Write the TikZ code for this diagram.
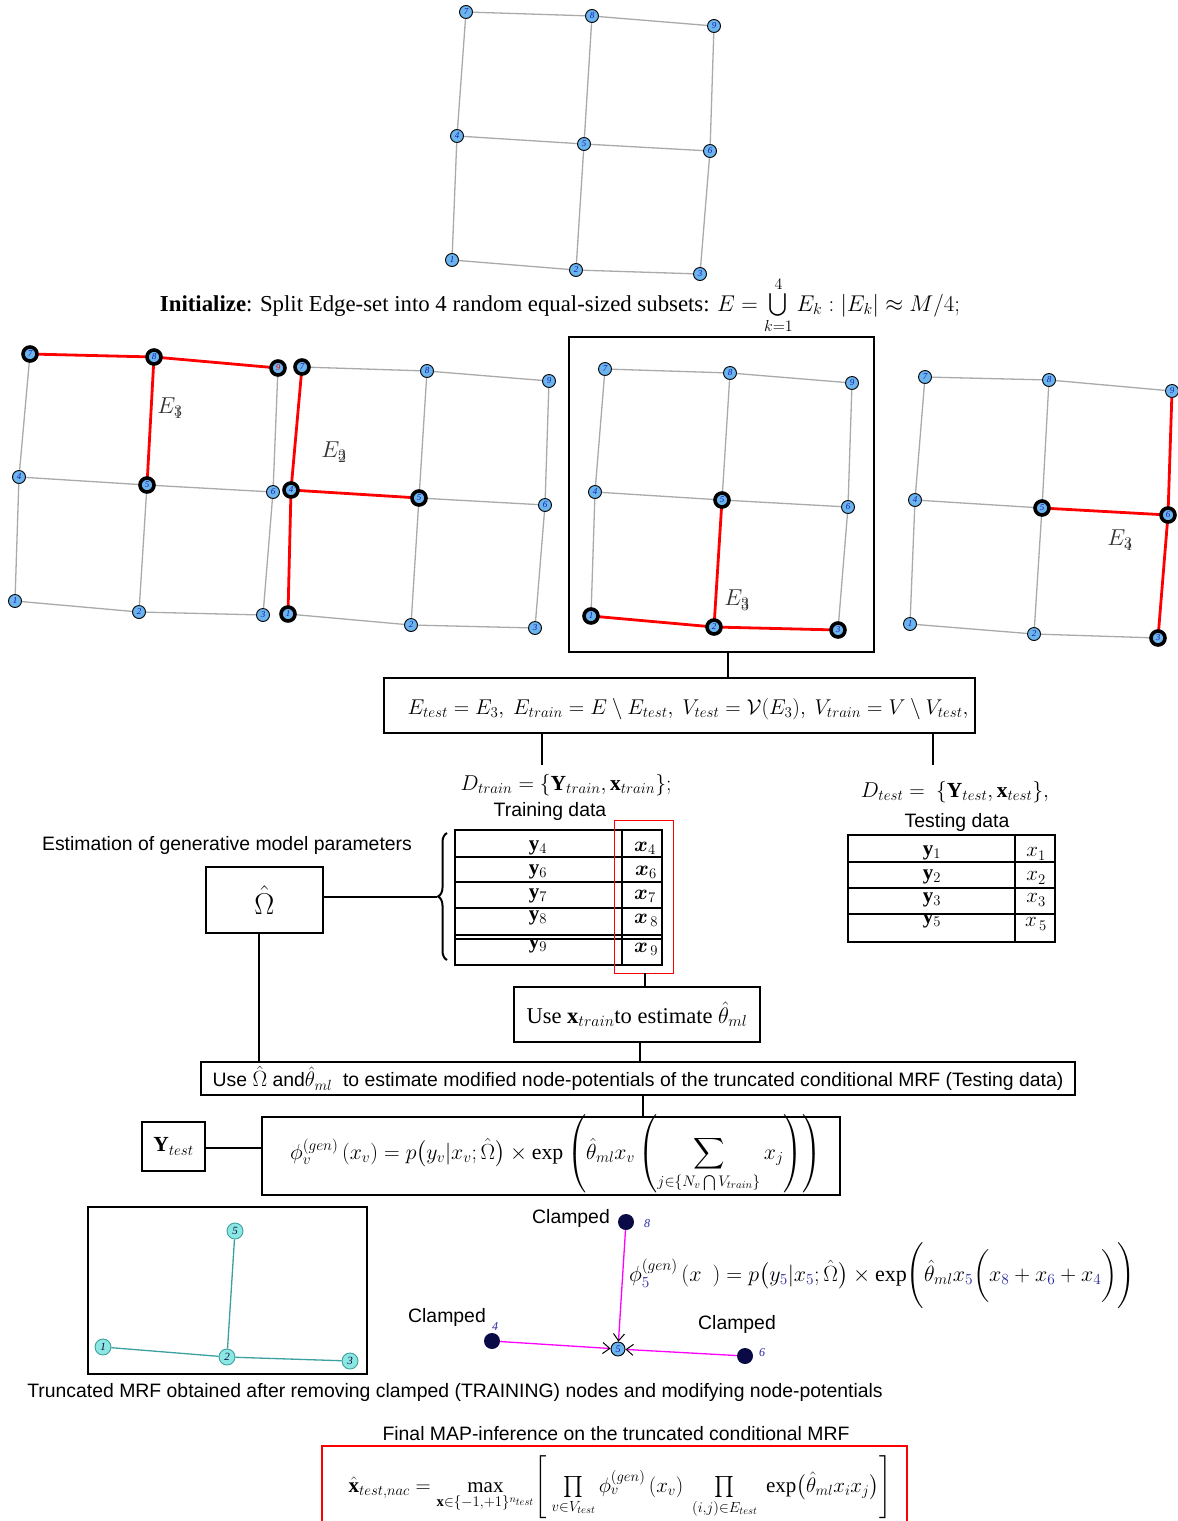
\RequirePackage{fix-cm}
\documentclass[tikz,border=0pt]{standalone}
\usepackage{amsmath,amssymb}
\usepackage{fontspec}
\setmainfont{Liberation Serif}
\setsansfont{Liberation Sans}
\usetikzlibrary{arrows.meta,decorations.pathreplacing}
\definecolor{nodeblue}{RGB}{108,180,238}
\definecolor{numblue}{RGB}{20,30,180}
\definecolor{edgegray}{RGB}{170,170,170}
\definecolor{tealfill}{RGB}{140,230,225}
\definecolor{tealline}{RGB}{60,160,160}
\definecolor{navy}{RGB}{10,10,70}
\definecolor{labelblue}{RGB}{40,40,160}
\definecolor{magentaline}{RGB}{255,0,255}
\tikzset{
 gnode/.style={circle,draw=black,fill=nodeblue,inner sep=0pt,minimum size=13pt,line width=0.9pt,text=numblue,font=\fontsize{9}{9}\selectfont\itshape},
 bnode/.style={gnode,line width=3.6pt,minimum size=14pt},
 gedge/.style={draw=edgegray,line width=1.3pt},
 redge/.style={draw=red,line width=2.8pt},
 box/.style={draw=black,line width=1.4pt,inner sep=0pt},
 conn/.style={draw=black,line width=1.3pt},
 sans/.style={font=\sffamily\fontsize{19.4}{23}\selectfont},
 serif/.style={font=\fontsize{21.5}{25}\selectfont},
 elabel/.style={font=\fontsize{23}{27}\selectfont,text=black!80},
 tbl/.style={draw=black,line width=1.8pt},
 cellt/.style={font=\fontsize{21}{22}\selectfont,inner sep=0pt},
 tnode/.style={circle,draw=tealline,fill=tealfill,inner sep=0pt,minimum size=16pt,line width=0.9pt,text=navy,font=\fontsize{11}{11}\selectfont\itshape},
 tedge/.style={draw=tealline,line width=1.3pt},
 cnode/.style={circle,fill=navy,inner sep=0pt,minimum size=16pt},
 cnum/.style={text=labelblue,font=\fontsize{12}{12}\selectfont\itshape},
 medge/.style={draw=magentaline,line width=1.3pt,-{Straight Barb[black,length=7pt,width=11pt,line width=1pt]}},
}
\newcommand{\mrfgrid}[2]{%
  \foreach \n/\x/\y in {#2} {\node[gnode] (#1\n) at (\x,\y) {\n};}
  \foreach \a/\b in {7/8,8/9,4/5,5/6,1/2,2/3,7/4,4/1,8/5,5/2,9/6,6/3} {\draw[gedge] (#1\a) -- (#1\b);}
}
\newcommand{\mrfred}[3]{%
  \foreach \a/\b in {#2} {\draw[redge] (#1\a) -- (#1\b);}
  \foreach \n in {#3} {\node[bnode] (#1\n k) at (#1\n) {\n};}
}
\begin{document}
\begin{tikzpicture}[x=1pt,y=-1pt]
\useasboundingbox (0,0) rectangle (1178,1521);
\fill[white] (0,0) rectangle (1178,1521);

% ---------- top grid
\mrfgrid{a}{7/466/12,8/592/16,9/714/26,4/457/136,5/584/144,6/710/151,1/452/260,2/576/270,3/700/274}

\node[anchor=base,font=\fontsize{22.8}{26}\selectfont] (init) at (560,311) {\textbf{Initialize}: Split Edge-set into 4 random equal-sized subsets: $E=\bigcup\limits_{k=1}^{4}E_k : |E_k|\approx M/4;$};

% ---------- four grids
\node[box,minimum width=305pt,minimum height=315pt] (g3box) at (721.5,494.5) {};

\mrfgrid{b}{7/30/354,8/154/357,9/278/368,4/19/477,5/147/485,6/273/492,1/15/601,2/139/612,3/263/615}
\mrfred{b}{7/8,8/9,8/5}{7,8,5}
\node[bnode,text=red] (b9k) at (b9) {9};
\node[elabel] (lb) at (170,408) {$E_{\rlap{$\scriptstyle 3$}\raisebox{-2pt}{$\scriptstyle 1$}}$};

\mrfgrid{c}{7/302/367,8/427/371,9/549/381,4/291/490,5/419/498,6/545/505,1/288/614,2/411/625,3/535/628}
\mrfred{c}{7/4,4/1,4/5}{7,4,1,5}
\node[elabel] (lc) at (334,452) {$E_{\rlap{$\scriptstyle 3$}\raisebox{-2pt}{$\scriptstyle 2$}}$};

\mrfgrid{d}{7/605/369,8/730/373,9/852/383,4/595/492,5/722/500,6/848/507,1/591/616,2/714/627,3/838/630}
\mrfred{d}{5/2,1/2,2/3}{5,1,2,3}
\node[elabel] (ld) at (737,600) {$E_{\rlap{$\scriptstyle 3$}\raisebox{-2pt}{$\scriptstyle 3$}}$};

\mrfgrid{e}{7/925/377,8/1049/380,9/1172/391,4/915/500,5/1042/508,6/1168/515,1/910/624,2/1034/634,3/1158/638}
\mrfred{e}{9/6,5/6,6/3}{5,6,3}
\node[elabel] (le) at (1120,540) {$E_{\rlap{$\scriptstyle 3$}\raisebox{-2pt}{$\scriptstyle 4$}}$};

% ---------- test/train split
\node[box,minimum width=591pt,minimum height=55pt] (etest) at (679.5,705.5) {};
\node[font=\fontsize{21.4}{25}\selectfont] (etesttext) at (688,709) {$E_{test}=E_{3},\ E_{train}=E\setminus E_{test},\ V_{test}=\mathcal{V}(E_3),\ V_{train}=V\setminus V_{test},$};
\draw[conn] ([xshift=6.5pt]g3box.south) -- ([xshift=6.5pt]g3box.south |- etest.north);

\node[serif] (dtrain) at (566,785) {$D_{train}=\{\mathbf{Y}_{train},\mathbf{x}_{train}\};$};
\node[sans] (trlab) at (550,811) {Training data};
\node[serif] (dtest) at (955,792) {$D_{test}=\ \{\mathbf{Y}_{test},\mathbf{x}_{test}\},$};
\node[sans] (telab) at (957,822) {Testing data};
\coordinate (ca) at (542,765);
\coordinate (cb) at (933,765);
\draw[conn] (ca |- etest.south) -- (ca);
\draw[conn] (cb |- etest.south) -- (cb);

% ---------- training table
\draw[tbl] (455,830) rectangle (662,965);
\foreach \yy in {857,882,908,935,939} {\draw[tbl] (455,\yy) -- (662,\yy);}
\draw[tbl] (622,830) -- (622,965);
\node[draw=red,line width=0.8pt,minimum width=59pt,minimum height=153pt,inner sep=0pt] (redbox) at (643.5,896.5) {};
\node[cellt] (ty4) at (538,848) {$\mathbf{y}_4$};
\node[cellt] (tx4) at (645,848) {$\boldsymbol{x}_4$};
\node[cellt] (ty6) at (538,872) {$\mathbf{y}_6$};
\node[cellt] (tx6) at (646,872) {$\boldsymbol{x}_6$};
\node[cellt] (ty7) at (538,896) {$\mathbf{y}_7$};
\node[cellt] (tx7) at (645,896) {$\boldsymbol{x}_7$};
\node[cellt] (ty8) at (538,918) {$\mathbf{y}_8$};
\node[cellt] (tx8) at (646,920) {$\boldsymbol{x}_{\,8}$};
\node[cellt] (ty9) at (538,946) {$\mathbf{y}_9$};
\node[cellt] (tx9) at (646,949) {$\boldsymbol{x}_{\,9}$};

\draw[decorate,decoration={brace,amplitude=9pt},line width=2pt] (447,960) -- (447,833);
\coordinate (bracetip) at (437,897);

% ---------- testing table
\draw[tbl] (848,835) rectangle (1055,942);
\foreach \yy in {862,888,914} {\draw[tbl] (848,\yy) -- (1055,\yy);}
\draw[tbl] (1015,835) -- (1015,942);
\node[cellt] (sy1) at (932,853) {$\mathbf{y}_1$};
\node[cellt] (sx1) at (1036,854) {$x_1$};
\node[cellt] (sy2) at (932,877) {$\mathbf{y}_2$};
\node[cellt] (sx2) at (1036,878) {$x_2$};
\node[cellt] (sy3) at (932,900) {$\mathbf{y}_3$};
\node[cellt] (sx3) at (1036,900) {$x_3$};
\node[cellt] (sy5) at (932,921) {$\mathbf{y}_5$};
\node[cellt] (sx5) at (1036,924) {$x_{\,5}$};

% ---------- estimation
\node[sans] (estlab) at (227,845) {Estimation of generative model parameters};
\node[box,minimum width=117pt,minimum height=66pt,font=\fontsize{30}{32}\selectfont] (omega) at (264.5,900) {$\hat{\Omega}$};
\draw[conn] (omega.east |- bracetip) -- (bracetip);

\node[box,minimum width=246pt,minimum height=55pt,font=\fontsize{22.5}{26}\selectfont] (xtr) at (637,1014.5) {Use $\mathbf{x}_{train}$to estimate $\hat{\theta}_{ml}$};
\coordinate (cc) at (645,973);
\draw[conn] (cc) -- (cc |- xtr.north);

\node[box,minimum width=874pt,minimum height=33pt,sans] (big) at (638,1078.5) {Use {\fontsize{22}{24}\selectfont$\hat{\Omega}$} and{\fontsize{21}{24}\selectfont$\hat{\theta}_{ml}$} \ to estimate modified node-potentials of the truncated conditional MRF (Testing data)};
\coordinate (cd) at (640,1042);
\draw[conn] (cd) -- (cd |- big.north);
\coordinate (ce) at (259,933);
\draw[conn] (ce) -- (ce |- big.north);

% ---------- node potential
\node[box,minimum width=63pt,minimum height=49pt,serif] (ytest) at (173.5,1146.5) {$\mathbf{Y}_{test}$};
\node[box,minimum width=578pt,minimum height=78pt] (phi) at (551,1156) {};
\node[font=\fontsize{21.8}{25}\selectfont] (phitext) at (556,1154) {$\displaystyle \phi_v^{(gen)}\left(x_v\right)=p\bigl(y_v|x_v;\hat{\Omega}\bigr)\times\exp\left(\hat{\theta}_{ml}x_v\left(\sum_{j\in\{N_v\bigcap V_{train}\}}x_j\right)\right)$};
\coordinate (cf) at (643,1095);
\draw[conn] (cf) -- (cf |- phi.north);
\draw[conn] (ytest.east |- 0,1148) -- (phi.west |- 0,1148);

% ---------- truncated MRF
\node[box,line width=1.8pt,minimum width=279pt,minimum height=167pt] (tbox) at (227.5,1290.5) {};
\node[tnode] (t5) at (235,1231) {5};
\node[tnode] (t1) at (103,1347) {1};
\node[tnode] (t2) at (227,1357) {2};
\node[tnode] (t3) at (350,1361) {3};
\draw[tedge] (t5) -- (t2);
\draw[tedge] (t1) -- (t2);
\draw[tedge] (t2) -- (t3);
\node[sans] (trunc) at (455,1392) {Truncated MRF obtained after removing clamped (TRAINING) nodes and modifying node-potentials};

% ---------- clamped
\node[cnode] (c8) at (626,1222) {};
\node[cnode] (c4) at (492,1341) {};
\node[cnode] (c6) at (745,1356) {};
\node[gnode,minimum size=14pt,font=\fontsize{10}{10}\selectfont\itshape] (c5) at (618,1349) {5};
\node[cnum] (n8) at (647,1224) {8};
\node[cnum] (n4) at (495,1327) {4};
\node[cnum] (n6) at (762,1353) {6};
\node[sans] (cl8) at (571,1218) {Clamped};
\node[sans] (cl4) at (447,1317) {Clamped};
\node[sans] (cl6) at (737,1324) {Clamped};
\draw[medge] (c8) -- (c5);
\draw[medge] (c4) -- (c5);
\draw[medge] (c6) -- (c5);
\node[font=\fontsize{22}{26}\selectfont] (phi5) at (882,1276) {$\phi_{\textcolor{labelblue}{5}}^{(gen)}\left(x\ \ \right)=p\bigl(y_{\textcolor{labelblue}{5}}|x_{\textcolor{labelblue}{5}};\hat{\Omega}\bigr)\times\exp\Biggl(\hat{\theta}_{ml}x_{\textcolor{labelblue}{5}}\biggl(x_{\textcolor{labelblue}{8}}+x_{\textcolor{labelblue}{6}}+x_{\textcolor{labelblue}{4}}\biggr)\Biggr)$};

% ---------- final
\node[sans] (finlab) at (616,1434) {Final MAP-inference on the truncated conditional MRF};
\draw[red,line width=1.4pt] (322,1523) -- (322,1446) -- (907,1446) -- (907,1523);
\node[font=\fontsize{21}{25}\selectfont] (final) at (620,1487) {$\hat{\mathbf{x}}_{test,nac}=\max\limits_{\mathbf{x}\in\{-1,+1\}^{n_{test}}}\Biggl[\ \mathop{\textstyle\prod}\limits_{v\in V_{test}}\phi_v^{(gen)}\left(x_v\right)\ \mathop{\textstyle\prod}\limits_{(i,j)\in E_{test}}\ \exp\bigl(\hat{\theta}_{ml}x_ix_j\bigr)\Biggr]$};
\end{tikzpicture}
\end{document}
